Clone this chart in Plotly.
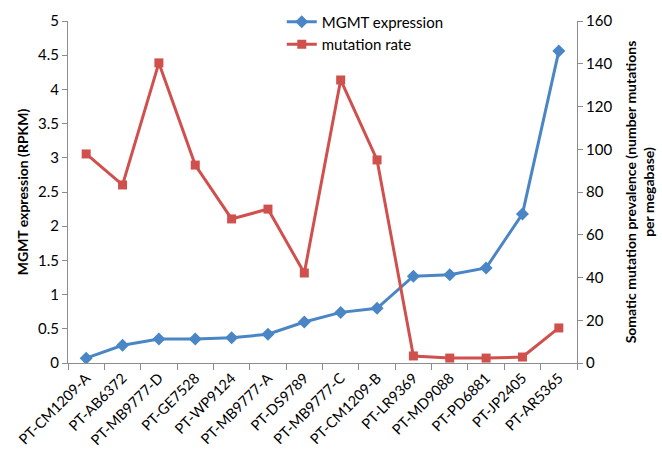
import plotly.graph_objects as go

categories = ["PT-CM1209-A", "PT-AB6372", "PT-MB9777-D", "PT-GE7528", "PT-WP9124",
              "PT-MB9777-A", "PT-DS9789", "PT-MB9777-C", "PT-CM1209-B", "PT-LR9369",
              "PT-MD9088", "PT-PD6881", "PT-JP2405", "PT-AR5365"]
mgmt_expression = [0.07, 0.26, 0.35, 0.35, 0.37, 0.42, 0.60, 0.74, 0.80, 1.27, 1.29, 1.39, 2.18, 4.56]
mutation_rate = [97.8, 83.3, 140.4, 92.6, 67.4, 72.0, 42.1, 132.4, 95.0, 3.3, 2.3, 2.3, 2.8, 16.4]

FONT = "Lato"
AXIS_COLOR = "#8c8c8c"

fig = go.Figure()
fig.add_trace(go.Scatter(
    x=categories, y=mgmt_expression, name="MGMT expression", mode="lines+markers",
    line=dict(color="#4a86c5", width=3),
    marker=dict(symbol="diamond", size=10, color="#4a86c5"),
))
fig.add_trace(go.Scatter(
    x=categories, y=mutation_rate, name="mutation rate", mode="lines+markers",
    yaxis="y2",
    line=dict(color="#d0504d", width=3),
    marker=dict(symbol="square", size=9, color="#d0504d"),
))

fig.update_layout(
    width=662, height=455,
    margin=dict(l=68, r=85, t=21, b=92, autoexpand=False),
    paper_bgcolor="white", plot_bgcolor="white",
    font=dict(family=FONT, size=14, color="#000000"),
    showlegend=True,
    legend=dict(x=0.42, y=1.045, xanchor="left", yanchor="top",
                bgcolor="rgba(0,0,0,0)", font=dict(size=15),
                tracegroupgap=0, itemwidth=30),
    xaxis=dict(
        type="category", showgrid=False, showline=True, linecolor=AXIS_COLOR,
        ticks="outside", tickson="boundaries", ticklen=6, tickcolor=AXIS_COLOR,
        tickangle=-45, tickfont=dict(size=14.5), range=[-0.5, 13.5],
    ),
    yaxis=dict(
        range=[0, 5], dtick=0.5, showgrid=False, showline=True, linecolor=AXIS_COLOR,
        ticks="outside", ticklen=5, tickcolor=AXIS_COLOR, zeroline=False,
        tickfont=dict(size=15),
        title=dict(text="<b>MGMT expression (RPKM)</b>", font=dict(size=14), standoff=6),
    ),
    yaxis2=dict(
        range=[0, 160], dtick=20, overlaying="y", side="right", showgrid=False,
        showline=True, linecolor=AXIS_COLOR, ticks="outside", ticklen=5,
        tickcolor=AXIS_COLOR, zeroline=False, tickfont=dict(size=15),
        title=dict(text="<b>Somatic mutation prevalence (number mutations<br>per megabase)</b>",
                   font=dict(size=14), standoff=14),
    ),
)

fig.write_html("out.html", post_script="document.body.style.margin='0';",
               config={"displayModeBar": False})
